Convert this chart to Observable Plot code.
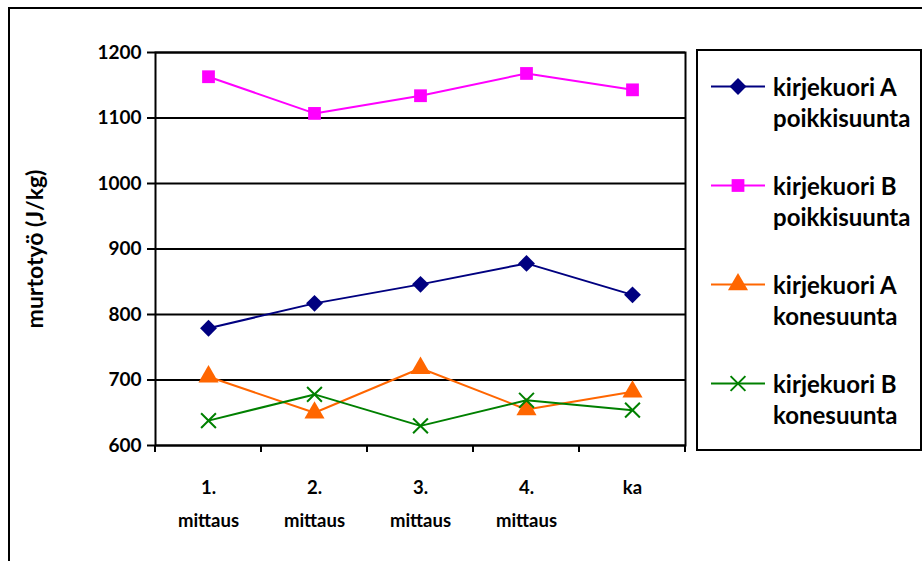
<!DOCTYPE html>
<html><head><meta charset="utf-8">
<script src="https://cdn.jsdelivr.net/npm/d3@7"></script>
<script src="https://cdn.jsdelivr.net/npm/@observablehq/plot@0.6"></script>
<style>
body{margin:0;background:#fff;font-family:Lato,"Open Sans",sans-serif;}
#wrap{position:relative;width:922px;height:561px;overflow:hidden;background:#fff;}
#border{position:absolute;left:8px;top:7px;width:960px;height:620px;border:2px solid #000;box-sizing:border-box;}
#chart{position:absolute;left:0;top:0;}
#legend{position:absolute;left:696px;top:49px;width:226px;height:402px;border:2px solid #000;box-sizing:border-box;background:#fff;}
.entry{position:absolute;left:0;}
.entry svg{position:absolute;left:13px;}
.entry .lbl{position:absolute;left:75px;font-weight:bold;font-size:24px;line-height:31px;white-space:pre;color:#000;}
</style></head><body>
<div id="wrap"><div id="border"></div><div id="chart"></div><div id="legend"></div></div>
<script>
// ---- data ----
const categories = ["1.\nmittaus", "2.\nmittaus", "3.\nmittaus", "4.\nmittaus", "ka"];
const seriesNames = ["kirjekuori A\npoikkisuunta", "kirjekuori B\npoikkisuunta", "kirjekuori A\nkonesuunta", "kirjekuori B\nkonesuunta"];
const aPoikki = [779, 817, 846, 878, 830];
const bPoikki = [1163, 1107, 1134, 1168, 1143];
const aKone = [705, 650, 718, 655, 682];
const bKone = [638, 678, 630, 669, 654];
const yTicks = [600, 700, 800, 900, 1000, 1100, 1200];
const yLabel = "murtotyö (J/kg)";
const colors = ["#000080", "#FF00FF", "#FF6600", "#008000"];
const symbols = ["diamond2", "square", "triangle2", "times"];
const symbolR = [7.6, 7.2, 9.6, 6.8];

const valueSets = [aPoikki, bPoikki, aKone, bKone];
const rows = [];
valueSets.forEach((vals, si) => vals.forEach((v, i) => rows.push({cat: categories[i], value: v, series: seriesNames[si]})));

const dotMarks = seriesNames.map((name, si) =>
  Plot.dot(rows.filter(d => d.series === name), {
    x: "cat", y: "value", symbol: () => symbols[si], r: symbolR[si],
    fill: symbols[si] === "times" ? "none" : colors[si],
    stroke: colors[si], strokeWidth: symbols[si] === "times" ? 2 : 0
  })
);

const plot = Plot.plot({
  width: 922, height: 561,
  marginLeft: 155, marginRight: 237, marginTop: 52, marginBottom: 116,
  style: {fontFamily: "Lato, 'Open Sans', sans-serif", fontWeight: "bold", fontSize: "18px", background: "transparent", color: "#000", overflow: "visible"},
  x: {type: "point", domain: categories, padding: 0.5},
  y: {domain: [600, 1200]},
  symbol: {type: "identity"},
  color: {domain: seriesNames, range: colors},
  marks: [
    Plot.ruleY(yTicks, {stroke: "#000", strokeWidth: 2}),
    Plot.frame({stroke: "#000", strokeWidth: 2}),
    Plot.axisY({ticks: yTicks, tickSize: 8, tickPadding: 6, tickFormat: d => String(d), fontSize: 19, fontWeight: "bold",
      stroke: "#000", strokeWidth: 2, label: null}),
    Plot.axisY({ticks: [], tickSize: 0, fontSize: 23, fontWeight: "bold",
      label: yLabel, labelAnchor: "center", labelArrow: "none", labelOffset: 129}),
    Plot.axisX({tickSize: 0, tickPadding: 25, lineHeight: 1.8, fontSize: 18.5, fontWeight: "bold", label: null}),
    Plot.line(rows, {x: "cat", y: "value", z: "series", stroke: "series", strokeWidth: 2}),
    ...dotMarks
  ]
});
document.getElementById("chart").appendChild(plot);

// x tick marks at category boundaries, from the library's x scale
const xs = plot.scale("x");
const ys = plot.scale("y");
const step = xs.apply(categories[1]) - xs.apply(categories[0]);
const bounds = categories.map(c => xs.apply(c) - step / 2).concat([xs.apply(categories[categories.length - 1]) + step / 2]);
const y0 = ys.apply(600);
d3.select(plot).append("g").selectAll("line").data(bounds).join("line")
  .attr("x1", d => d).attr("x2", d => d).attr("y1", y0).attr("y2", y0 + 7)
  .attr("stroke", "#000").attr("stroke-width", 2);

// legend
const legend = d3.select("#legend");
const entryTops = [35, 134, 233, 332];
seriesNames.forEach((name, si) => {
  const e = legend.append("div").attr("class", "entry").style("top", (entryTops[si] - 15.5) + "px");
  const svg = e.append("svg").attr("width", 56).attr("height", 31).style("top", "0px");
  svg.append("line").attr("x1", 0).attr("x2", 54).attr("y1", 15.5).attr("y2", 15.5).attr("stroke", colors[si]).attr("stroke-width", 2);
  const symMap = {diamond2: d3.symbolDiamond2, square: d3.symbolSquare, triangle2: d3.symbolTriangle2, times: d3.symbolTimes};
  const r = symbolR[si];
  svg.append("path").attr("transform", "translate(27,15.5)")
    .attr("d", d3.symbol(symMap[symbols[si]], Math.PI * r * r)())
    .attr("fill", symbols[si] === "times" ? "none" : colors[si])
    .attr("stroke", colors[si]).attr("stroke-width", symbols[si] === "times" ? 2 : 0);
  e.append("div").attr("class", "lbl").style("top", "0px").text(name);
});
</script>
</body></html>
